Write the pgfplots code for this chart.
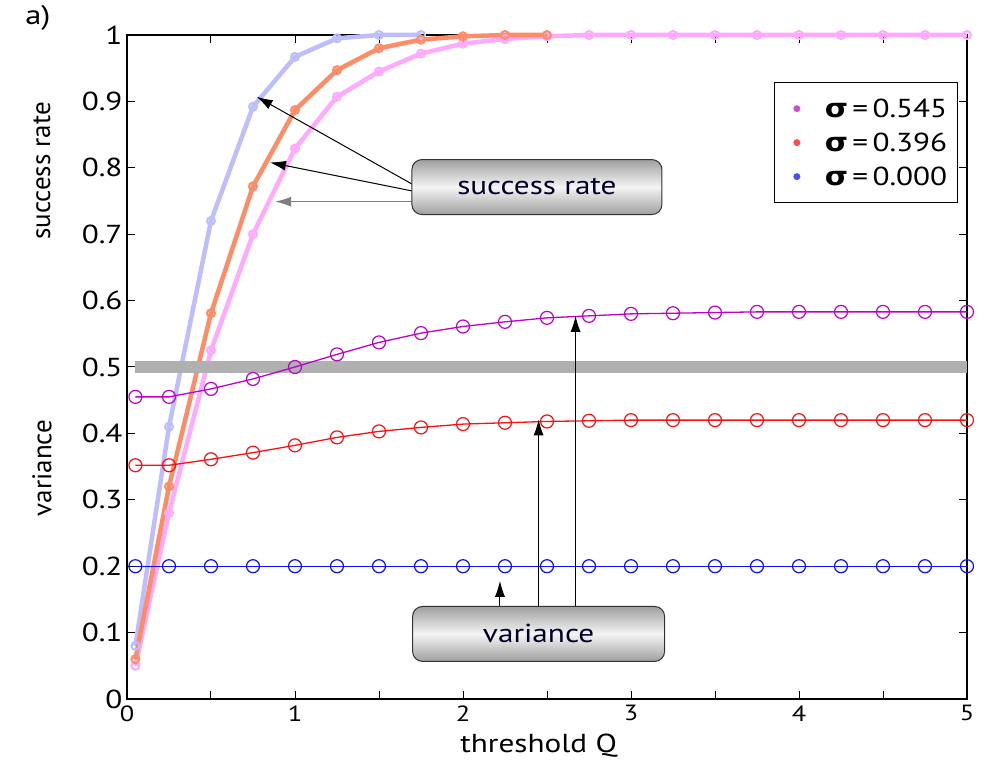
\documentclass[border=0pt]{standalone}
\usepackage{pgfplots}
\pgfplotsset{compat=1.18}
\usepackage{fontspec}
\setmainfont{PT Sans}[FakeStretch=1.2]
\newfontfamily\plainfont{PT Sans}
\newfontfamily\grk{DejaVu Sans}[FakeStretch=1.15]
\usetikzlibrary{arrows.meta}
\definecolor{sblue}{HTML}{BDBDFF}
\definecolor{sred}{HTML}{FF8C66}
\definecolor{spink}{HTML}{FFAAFF}
\definecolor{vmag}{HTML}{C000C8}
\definecolor{vred}{HTML}{FF1010}
\definecolor{vblue}{HTML}{1010FF}
\definecolor{bargray}{HTML}{B0B0B0}
\begin{document}
\begin{tikzpicture}
\path[use as bounding box] (-127bp,-67bp) rectangle (855bp,699bp);
\begin{axis}[
  width=840bp, height=664bp, scale only axis,
  xmin=0, xmax=5, ymin=0, ymax=1,
  xtick={0,1,2,3,4,5},
  minor xtick={0.5,1.5,2.5,3.5,4.5},
  ytick={0,0.1,0.2,0.3,0.4,0.5,0.6,0.7,0.8,0.9,1},
  yticklabels={0,0.1,0.2,0.3,0.4,0.5,0.6,0.7,0.8,0.9,1},
  xticklabels={0,1,2,3,4,5},
  tick align=inside,
  major tick length=8bp, minor tick length=8bp,
  every tick/.style={black, line width=1bp},
  axis line style={line width=1.3bp},
  /pgf/number format/assume math mode=true,
  x tick label style={font=\fontsize{22bp}{24bp}\selectfont, yshift=-3bp},
  y tick label style={font=\fontsize{26bp}{28bp}\selectfont, xshift=-1bp},
  xlabel={threshold Q},
  every axis x label/.style={at={(axis description cs:0.49,0)}, anchor=center, yshift=-47bp, font=\fontsize{26bp}{28bp}\selectfont},
  clip=false,
  legend style={at={(rel axis cs:0.989,0.929)}, anchor=north east, draw=black, line width=1bp,
    font=\fontsize{26bp}{30bp}\selectfont, row sep=10bp, inner xsep=8bp, inner ysep=14bp},
  legend cell align=left,
  legend image code/.code={\path[draw=none,fill=none] (0,-2bp) rectangle (40bp,2bp); \fill[#1, draw=none] (14bp,0) circle (3.5bp);},
]
% legend images
\addlegendimage{vmag!70!white}
\addlegendentry{{\grk\bfseries σ}\,=\,0.545}
\addlegendimage{vred!75!white}
\addlegendentry{{\grk\bfseries σ}\,=\,0.396}
\addlegendimage{vblue!75!white}
\addlegendentry{{\grk\bfseries σ}\,=\,0.000}

% success rate curves
\addplot[forget plot, spink, line width=4.5bp, mark=o, mark size=4bp, mark options={line width=2bp}] coordinates {
(0.05,0.05) (0.25,0.28) (0.5,0.525) (0.75,0.70) (1,0.829) (1.25,0.907) (1.5,0.945) (1.75,0.972)
(2,0.987) (2.25,0.994) (2.5,0.998) (2.75,1) (3,1) (3.25,1) (3.5,1) (3.75,1) (4,1) (4.25,1) (4.5,1) (4.75,1) (5,1)};
\addplot[forget plot, sblue, line width=4.5bp, mark=o, mark size=4bp, mark options={line width=2bp}] coordinates {
(0.05,0.08) (0.25,0.41) (0.5,0.72) (0.75,0.892) (1,0.967) (1.25,0.995) (1.5,1) (1.75,1)};
\addplot[forget plot, sred, line width=4.5bp, mark=o, mark size=4bp, mark options={line width=2bp}] coordinates {
(0.05,0.06) (0.25,0.32) (0.5,0.581) (0.75,0.772) (1,0.887) (1.25,0.947) (1.5,0.980) (1.75,0.993)
(2,0.998) (2.25,1) (2.5,1)};

% grey bar
\addplot[forget plot, bargray, line width=12bp] coordinates {(0.05,0.5) (5,0.5)};

% variance curves
\addplot[forget plot, vmag, line width=1.3bp, mark=o, mark size=6.5bp, mark options={line width=1.2bp}] coordinates {
(0.05,0.455) (0.25,0.455) (0.5,0.467) (0.75,0.482) (1,0.500) (1.25,0.519) (1.5,0.537) (1.75,0.551)
(2,0.561) (2.25,0.568) (2.5,0.574) (2.75,0.577) (3,0.580) (3.25,0.581) (3.5,0.582) (3.75,0.583)
(4,0.583) (4.25,0.583) (4.5,0.583) (4.75,0.583) (5,0.583)};
\addplot[forget plot, vred, line width=1.3bp, mark=o, mark size=6.5bp, mark options={line width=1.2bp}] coordinates {
(0.05,0.352) (0.25,0.352) (0.5,0.361) (0.75,0.371) (1,0.382) (1.25,0.394) (1.5,0.403) (1.75,0.409)
(2,0.414) (2.25,0.416) (2.5,0.418) (2.75,0.419) (3,0.420) (3.25,0.420) (3.5,0.420) (3.75,0.420)
(4,0.420) (4.25,0.420) (4.5,0.420) (4.75,0.420) (5,0.420)};
\addplot[forget plot, vblue, line width=1.3bp, mark=o, mark size=6.5bp, mark options={line width=1.2bp}] coordinates {
(0.05,0.2) (0.25,0.2) (0.5,0.2) (0.75,0.2) (1,0.2) (1.25,0.2) (1.5,0.2) (1.75,0.2)
(2,0.2) (2.25,0.2) (2.5,0.2) (2.75,0.2) (3,0.2) (3.25,0.2) (3.5,0.2) (3.75,0.2)
(4,0.2) (4.25,0.2) (4.5,0.2) (4.75,0.2) (5,0.2)};

% annotation arrows
\draw[black, line width=1bp, -{Latex[length=16bp,width=10bp]}] (axis cs:1.70,0.775) -- (axis cs:0.772,0.907);
\draw[black, line width=1bp, -{Latex[length=16bp,width=10bp]}] (axis cs:1.70,0.765) -- (axis cs:0.851,0.808);
\draw[gray, line width=1.5bp, -{Latex[length=16bp,width=10bp]}] (axis cs:1.70,0.749) -- (axis cs:0.881,0.749);
\node[draw=black!80, line width=1bp, rounded corners=10bp, minimum width=250bp, minimum height=55bp,
  top color=gray!75, bottom color=gray!75, middle color=white!92!gray,
  font=\fontsize{26bp}{30bp}\selectfont, text=black!85!blue] at (axis cs:2.44,0.771) {success rate};

\draw[black, line width=1bp, -{Latex[length=16bp,width=10bp]}] (axis cs:2.22,0.139) -- (axis cs:2.22,0.178);
\draw[black, line width=1bp, -{Latex[length=16bp,width=10bp]}] (axis cs:2.45,0.139) -- (axis cs:2.45,0.421);
\draw[black, line width=1bp, -{Latex[length=16bp,width=10bp]}] (axis cs:2.67,0.139) -- (axis cs:2.67,0.577);
\node[draw=black!80, line width=1bp, rounded corners=10bp, minimum width=252bp, minimum height=55bp,
  top color=gray!75, bottom color=gray!75, middle color=white!92!gray,
  font=\fontsize{26bp}{30bp}\selectfont, text=black!85!blue] at (axis cs:2.45,0.098) {variance};
\end{axis}
\node[rotate=90, font=\plainfont\fontsize{27bp}{29bp}\selectfont] at (-85bp,528bp) {success rate};
\node[rotate=90, font=\plainfont\fontsize{27bp}{29bp}\selectfont] at (-85bp,231bp) {variance};
\node[font=\fontsize{27bp}{30bp}\selectfont] at (-89bp,681bp) {a)};
\end{tikzpicture}
\end{document}
